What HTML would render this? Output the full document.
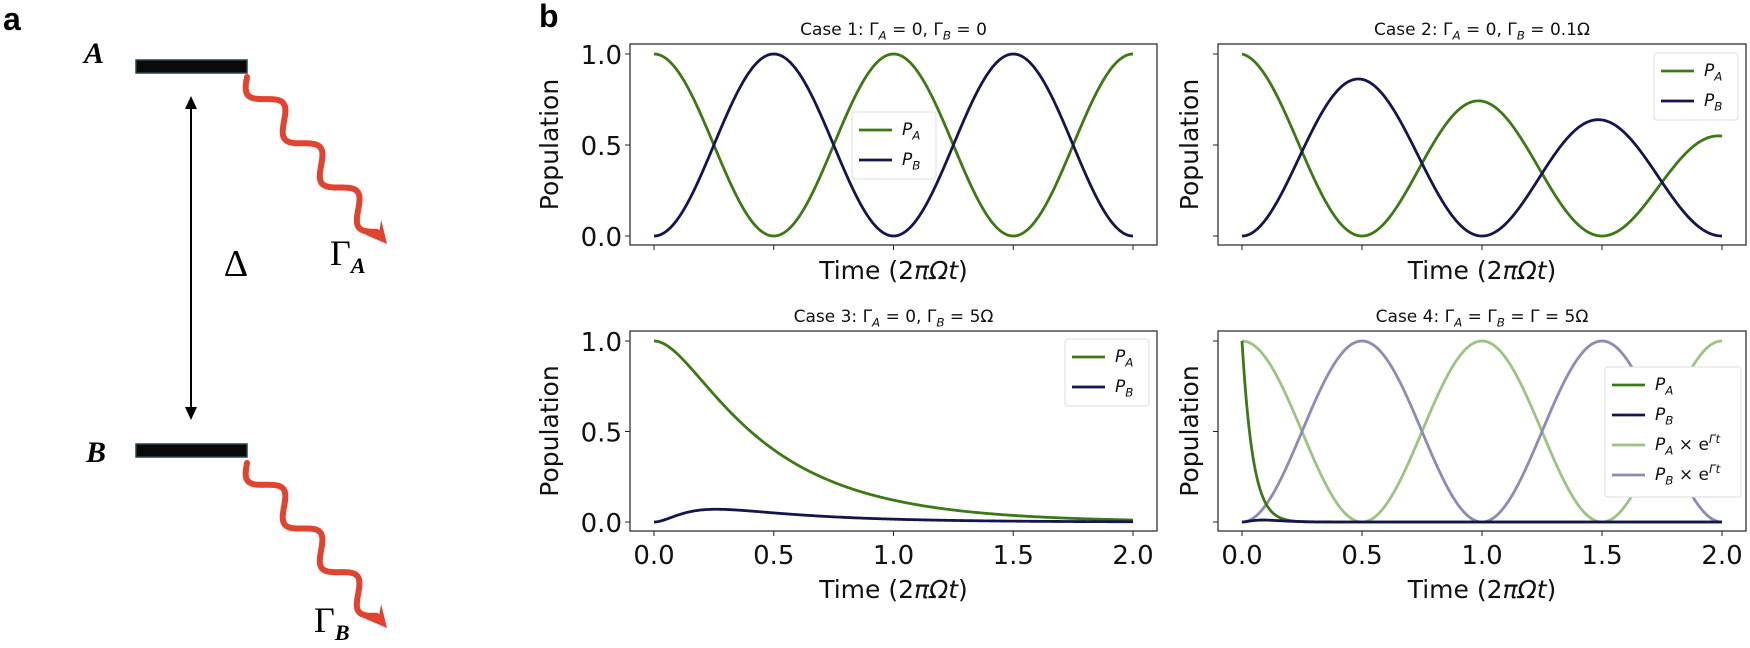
<!DOCTYPE html>
<html><head><meta charset="utf-8"><style>
html,body{margin:0;padding:0;background:#fff;}
svg{display:block;font-family:"DejaVu Sans","Liberation Sans",sans-serif;}
</style></head><body>
<svg id="s" width="1750" height="648" viewBox="0 0 1750 648" xmlns="http://www.w3.org/2000/svg">
<rect width="1750" height="648" fill="#fff"/>
<text x="3" y="30" font-size="32" font-weight="bold" font-family="Liberation Sans,sans-serif">a</text>
<text x="539" y="27" font-size="32" font-weight="bold" font-family="Liberation Sans,sans-serif">b</text>
<!-- panel a -->
<text x="94" y="63" font-size="30" font-style="italic" font-weight="bold" font-family="Liberation Serif,serif" text-anchor="middle">A</text>
<text x="96" y="462" font-size="30" font-style="italic" font-weight="bold" font-family="Liberation Serif,serif" text-anchor="middle">B</text>
<rect x="136" y="60" width="111" height="13" fill="#0a0a0a" stroke="#2a4450" stroke-width="1.5"/>
<rect x="136" y="444" width="111" height="13" fill="#0a0a0a" stroke="#2a4450" stroke-width="1.5"/>
<line x1="191" y1="106" x2="191" y2="410" stroke="#000" stroke-width="2"/>
<polygon points="191,96 185,109 197,109" fill="#000"/>
<polygon points="191,420 185,407 197,407" fill="#000"/>
<text x="236" y="276" font-size="38" font-family="Liberation Serif,serif" text-anchor="middle">Δ</text>
<text x="330" y="265" font-size="36" font-family="Liberation Serif,serif">Γ<tspan font-size="22" font-style="italic" font-weight="bold" dy="8">A</tspan></text>
<text x="314" y="632" font-size="36" font-family="Liberation Serif,serif">Γ<tspan font-size="22" font-style="italic" font-weight="bold" dy="8">B</tspan></text>
<g id="waves"></g>
<g id="plots"></g>
</svg>
<script>
var NS="http://www.w3.org/2000/svg";
function el(p,tag,attrs,txt){var e=document.createElementNS(NS,tag);for(var k in attrs)e.setAttribute(k,attrs[k]);if(txt!==undefined)e.textContent=txt;p.appendChild(e);return e;}
var W=document.getElementById("waves");
function wave(x0,y0,x1,y1){
  var dx=x1-x0,dy=y1-y0,L=Math.sqrt(dx*dx+dy*dy),ux=dx/L,uy=dy/L,nx=-uy,ny=ux;
  var pts=[],Lw=L-16;
  for(var i=0;i<=240;i++){var s=Lw*i/240;var a=11*Math.sin(2*Math.PI*s/Lw*3.5);pts.push((x0+ux*s+nx*a).toFixed(1)+","+(y0+uy*s+ny*a).toFixed(1));}
  el(W,"polyline",{points:pts.join(" "),fill:"none",stroke:"#e2432f","stroke-width":6,"stroke-linecap":"round"});
  var bx=x1-ux*22,by=y1-uy*22;
  el(W,"polygon",{points:x1+","+y1+" "+(bx+nx*11)+","+(by+ny*11)+" "+(x1-ux*13)+","+(y1-uy*13)+" "+(bx-nx*11)+","+(by-ny*11),fill:"#e2432f"});
}
wave(247,77,387,244);
wave(247,463,387,628);

var P=document.getElementById("plots");
var G="#3b7a13",N="#14144f",LG="#9dc383",LN="#8c8bb5";
function addText(p,x,y,size,anchor,parts,rot){
  var t=el(p,"text",{x:x,y:y,"font-size":size,"text-anchor":anchor,fill:"#111"});
  if(rot)t.setAttribute("transform","rotate(-90 "+x+" "+y+")");
  parts.forEach(function(q){var sp=el(t,"tspan",{},q[0]);if(q[1]=="i")sp.setAttribute("font-style","italic");if(q[1]=="sub"){sp.setAttribute("font-style","italic");sp.setAttribute("font-size",size*0.7);sp.setAttribute("dy",size*0.25);}if(q[1]=="up"){sp.setAttribute("dy",-size*0.25);}if(q[1]=="sup"){sp.setAttribute("font-style","italic");sp.setAttribute("font-size",size*0.7);sp.setAttribute("dy",-size*0.4);}});
  return t;
}
function title(n,cx,y){
  var parts;
  if(n==1)parts=[["Case 1: Γ"],["A","sub"],[" = 0, Γ","up"],["B","sub"],[" = 0","up"]];
  if(n==2)parts=[["Case 2: Γ"],["A","sub"],[" = 0, Γ","up"],["B","sub"],[" = 0.1Ω","up"]];
  if(n==3)parts=[["Case 3: Γ"],["A","sub"],[" = 0, Γ","up"],["B","sub"],[" = 5Ω","up"]];
  if(n==4)parts=[["Case 4: Γ"],["A","sub"],[" = Γ","up"],["B","sub"],[" = Γ = 5Ω","up"]];
  addText(P,cx,y,17,"middle",parts);
}
function axes(o){
  var L=o.L,R=o.R,T=o.T,B=o.B,x0=o.L+24,x2=o.R-24,y1=T+10,y0=B-9;
  function X(t){return x0+(x2-x0)*t/2;}function Y(v){return y0+(y1-y0)*v;}
  el(P,"rect",{x:L,y:T,width:R-L,height:B-T,fill:"#fff",stroke:"#222","stroke-width":1.2});
  o.series.forEach(function(s){
    var pts=[];for(var i=0;i<=400;i++){var t=2*i/400;pts.push(X(t).toFixed(2)+","+Y(s.f(t)).toFixed(2));}
    el(P,"polyline",{points:pts.join(" "),fill:"none",stroke:s.c,"stroke-width":2.8});
  });
  [0,0.5,1].forEach(function(v){el(P,"line",{x1:L-5,x2:L,y1:Y(v),y2:Y(v),stroke:"#222","stroke-width":1});
    if(o.ylab)el(P,"text",{x:L-8,y:Y(v)+10,"font-size":26,"text-anchor":"end",fill:"#111"},v.toFixed(1));});
  [0,0.5,1,1.5,2].forEach(function(t){el(P,"line",{x1:X(t),x2:X(t),y1:B,y2:B+5,stroke:"#222","stroke-width":1});
    if(o.xlab)el(P,"text",{x:X(t),y:B+33,"font-size":26,"text-anchor":"middle",fill:"#111"},t.toFixed(1));});
  title(o.n,(L+R)/2,T-9);
  addText(P,(L+R)/2,o.xly,25,"middle",[["Time (2"],["πΩ","i"],["t","i"],[")"]]);
  addText(P,o.yx,(T+B)/2,25,"middle",[["Population"]],true);
  var lg=o.leg;
  el(P,"rect",{x:lg.x,y:lg.y,width:lg.w,height:lg.h,rx:3,fill:"#fff",stroke:"#ddd","stroke-width":1});
  lg.items.forEach(function(it,i){var yy=lg.y+18+i*lg.dy;
    el(P,"line",{x1:lg.x+7,x2:lg.x+40,y1:yy,y2:yy,stroke:it.c,"stroke-width":2.8});
    var parts=[["P","i"],[it.s,"sub"]];if(it.e)parts=parts.concat([[" × e","up"],["Γt","sup"]]);
    addText(P,lg.x+50,yy+5,17,"start",parts);});
}
var PI=Math.PI;
function c2(t){return Math.pow(Math.cos(PI*t),2);}function s2(t){return Math.pow(Math.sin(PI*t),2);}
function pa3(t){var tau=0.119;return Math.exp(-2.4*(t-tau*(1-Math.exp(-t/tau))));}
var LA={c:G,s:"A"},LB={c:N,s:"B"};
axes({n:1,L:630,R:1157,T:44,B:245,ylab:true,xlab:false,xly:279,yx:558,
  series:[{f:c2,c:G},{f:s2,c:N}],leg:{x:852,y:112,w:84,h:67,dy:30,items:[LA,LB]}});
axes({n:2,L:1218,R:1746,T:44,B:245,ylab:false,xlab:false,xly:279,yx:1198,
  series:[{f:function(t){return Math.exp(-0.3*t)*c2(t);},c:G},{f:function(t){return Math.exp(-0.3*t)*s2(t);},c:N}],
  leg:{x:1654,y:53,w:84,h:67,dy:30,items:[LA,LB]}});
axes({n:3,L:630,R:1157,T:331,B:531,ylab:true,xlab:true,xly:598,yx:558,
  series:[{f:pa3,c:G},{f:function(t){return 0.13*pa3(t)*Math.pow(1-Math.exp(-t/0.12),2);},c:N}],
  leg:{x:1065,y:339,w:84,h:67,dy:30,items:[LA,LB]}});
axes({n:4,L:1218,R:1746,T:331,B:531,ylab:false,xlab:true,xly:598,yx:1198,
  series:[{f:c2,c:LG},{f:s2,c:LN},{f:function(t){return c2(t)*Math.exp(-22*t);},c:G},{f:function(t){return s2(t)*Math.exp(-22*t);},c:N}],
  leg:{x:1605,y:367,w:136,h:130,dy:30,items:[LA,LB,{c:LG,s:"A",e:1},{c:LN,s:"B",e:1}]}});
</script>
</body></html>
